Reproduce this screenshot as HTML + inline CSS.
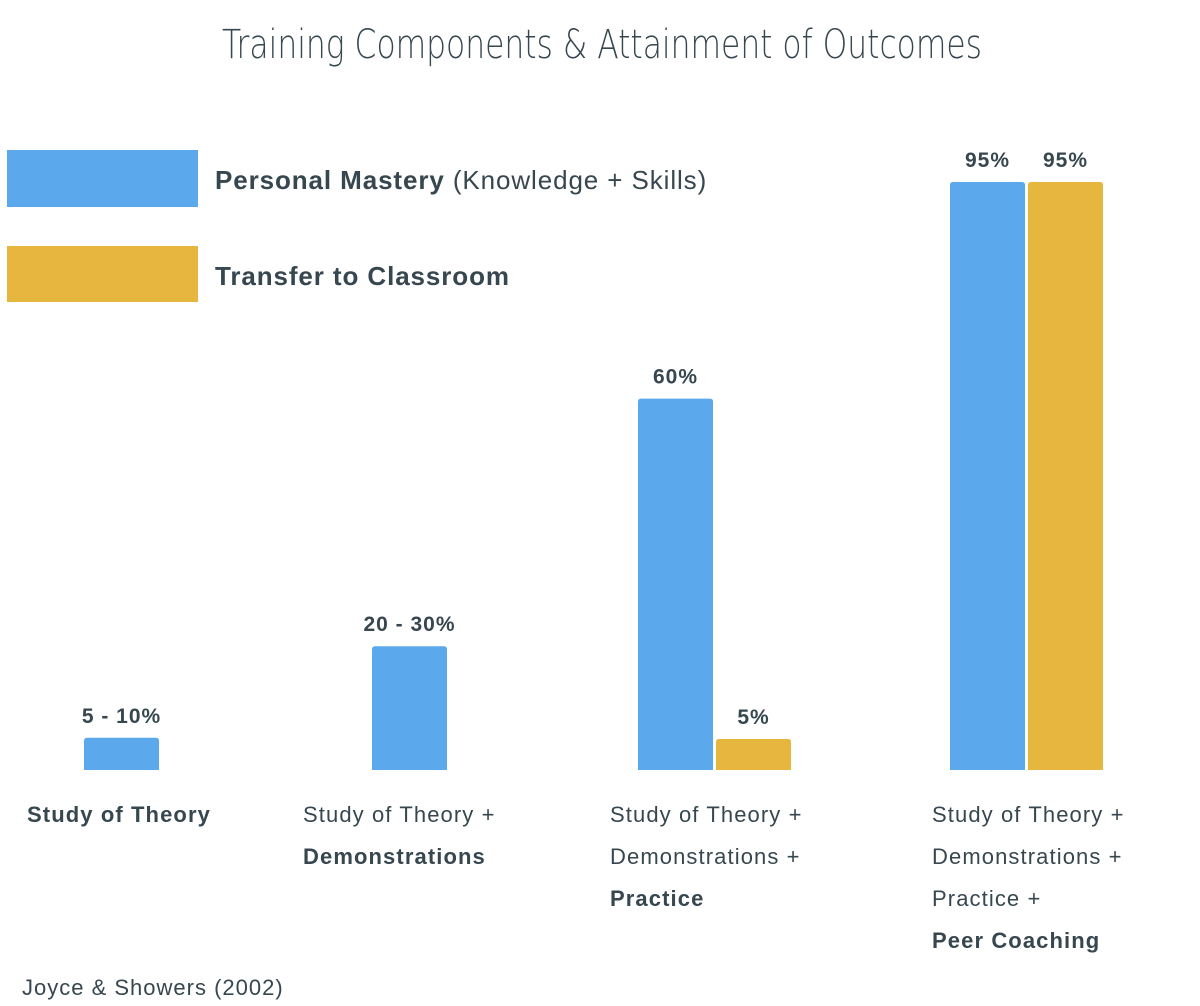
<!DOCTYPE html>
<html><head><meta charset="utf-8"><style>
html,body{margin:0;padding:0;background:#fff;width:1200px;height:1006px;overflow:hidden}
svg text{font-family:"Liberation Sans",sans-serif;fill:#37474f}
</style></head><body>
<svg id="chart" width="1200" height="1006">
<text x="222" y="58" font-size="40" textLength="760" lengthAdjust="spacingAndGlyphs" style="font-family:'DejaVu Sans',sans-serif;font-weight:200" fill="#3d4a55">Training Components &amp; Attainment of Outcomes</text>
<rect x="7" y="150" width="191" height="57" fill="#5ba8ec"/>
<text x="215" y="189" font-size="26" letter-spacing="0.9"><tspan font-weight="bold">Personal Mastery</tspan> (Knowledge + Skills)</text>
<rect x="7" y="246" width="191" height="56" fill="#e6b63f"/>
<text x="215" y="285" font-size="26" font-weight="bold" letter-spacing="0.9">Transfer to Classroom</text>
<g id="bars"></g>
<text x="22" y="995" font-size="22" letter-spacing="1">Joyce &amp; Showers (2002)</text>
</svg>
<script>
const categories = ["Study of Theory","Study of Theory + Demonstrations","Study of Theory + Demonstrations + Practice","Study of Theory + Demonstrations + Practice + Peer Coaching"];
const masteryValues = [5.2, 20, 60, 95];
const transferValues = [null, null, 5, 95];
const masteryLabels = ["5 - 10%","20 - 30%","60%","95%"];
const transferLabels = ["","","5%","95%"];
const categoryLines = [
  [["Study of Theory",true]],
  [["Study of Theory +",false],["Demonstrations",true]],
  [["Study of Theory +",false],["Demonstrations +",false],["Practice",true]],
  [["Study of Theory +",false],["Demonstrations +",false],["Practice +",false],["Peer Coaching",true]]
];
const baseY = 770, pxPerPct = 6.19;
const y = v => baseY - v * pxPerPct;
const groupX = [84, 372, 638, 950];
const labelX = [27, 303, 610, 932];
const barW = 75, gap = 3;
const g = document.getElementById('bars');
const NS = "http://www.w3.org/2000/svg";
function bar(x, v, color, label, name) {
  const r = document.createElementNS(NS, 'path');
  const t = y(v), rr = 3;
  r.setAttribute('d', `M${x},${baseY} V${t+rr} Q${x},${t} ${x+rr},${t} H${x+barW-rr} Q${x+barW},${t} ${x+barW},${t+rr} V${baseY} Z`);
  r.setAttribute('fill', color);
  
  
  g.appendChild(r);
  const tx = document.createElementNS(NS, 'text');
  tx.setAttribute('x', x + barW / 2);
  tx.setAttribute('y', t - 15);
  tx.setAttribute('text-anchor', 'middle');
  tx.setAttribute('font-size', '21');
  tx.setAttribute('font-weight', 'bold');
  tx.setAttribute('letter-spacing', '1');
  tx.textContent = label;
  
  
  g.appendChild(tx);
}
categories.forEach((c, i) => {
  bar(groupX[i], masteryValues[i], '#5ba8ec', masteryLabels[i], 'bar-mastery-' + (i + 1));
  if (transferValues[i] != null) bar(groupX[i] + barW + gap, transferValues[i], '#e6b63f', transferLabels[i], 'bar-transfer-' + (i + 1));
  categoryLines[i].forEach((ln, j) => {
    const t = document.createElementNS(NS, 'text');
    t.setAttribute('x', labelX[i]);
    t.setAttribute('y', 822 + j * 42);
    t.setAttribute('font-size', '22');
    t.setAttribute('letter-spacing', '1.1');
    if (ln[1]) t.setAttribute('font-weight', 'bold');
    t.textContent = ln[0];
    
    
    g.appendChild(t);
  });
});
</script>
</body></html>
